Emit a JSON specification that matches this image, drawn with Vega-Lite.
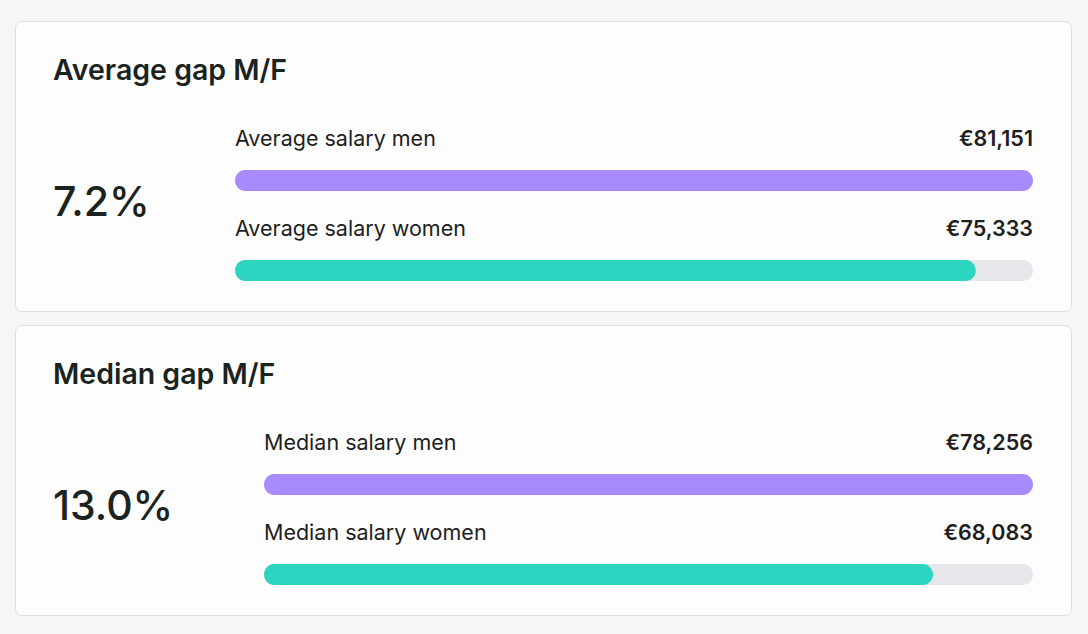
{
  "$schema": "https://vega.github.io/schema/vega-lite/v6.json",
  "background": "#f6f6f6",
  "padding": {"left": 14, "top": 20, "right": 18, "bottom": 18},
  "spacing": 12,
  "config": {
    "font": "Inter",
    "view": {"stroke": "#dcdcdc", "strokeWidth": 1, "fill": "#fdfdfd", "cornerRadius": 7},
    "locale": {"number": {"decimal": ".", "thousands": ",", "grouping": [3], "currency": ["€", ""]}},
    "title": {"anchor": "start", "frame": "group", "offset": -64, "dx": 38, "baseline": "alphabetic", "fontSize": 28.5, "fontWeight": 600, "color": "#1b2320", "font": "Inter"}
  },
  "datasets": {
    "average": [
      {"kind": "bar", "group": "men", "label": "Average salary men", "salary": 81151, "max": 81151, "row": 0},
      {"kind": "bar", "group": "women", "label": "Average salary women", "salary": 75333, "max": 81151, "row": 1},
      {"kind": "gap", "gap": 0.072}
    ],
    "median": [
      {"kind": "bar", "group": "men", "label": "Median salary men", "salary": 78256, "max": 78256, "row": 0},
      {"kind": "bar", "group": "women", "label": "Median salary women", "salary": 68083, "max": 78256, "row": 1},
      {"kind": "gap", "gap": 0.13}
    ]
  },
  "vconcat": [
    {
      "width": 1056,
      "height": 290,
      "title": {"text": "Average gap M/F"},
      "data": {"name": "average"},
      "layer": [
        {
          "transform": [{"filter": "datum.kind === 'bar'"}],
          "mark": {"type": "bar", "orient": "horizontal", "height": 21, "cornerRadius": 10.5, "color": "#e5e7eb"},
          "encoding": {
            "x": {"field": "max", "type": "quantitative", "stack": null, "scale": {"domain": [0, 81151], "range": [220, 1018], "zero": true, "nice": false}, "axis": null},
            "y": {"field": "row", "type": "quantitative", "scale": {"domain": [0, 1], "range": [159.5, 249.5], "nice": false, "padding": 0, "zero": false}, "axis": null}
          }
        },
        {
          "transform": [{"filter": "datum.kind === 'bar'"}],
          "mark": {"type": "bar", "orient": "horizontal", "height": 21, "cornerRadius": 10.5},
          "encoding": {
            "x": {"field": "salary", "type": "quantitative", "stack": null},
            "y": {"field": "row", "type": "quantitative"},
            "color": {"field": "group", "type": "nominal", "scale": {"domain": ["men", "women"], "range": ["#a78bfa", "#2dd4bf"]}, "legend": null}
          }
        },
        {
          "transform": [{"filter": "datum.kind === 'bar'"}],
          "mark": {"type": "text", "align": "left", "baseline": "alphabetic", "dy": -34.5, "fontSize": 21.5, "color": "#1e1e1e"},
          "encoding": {
            "x": {"datum": 0, "type": "quantitative"},
            "y": {"field": "row", "type": "quantitative"},
            "text": {"field": "label"}
          }
        },
        {
          "transform": [{"filter": "datum.kind === 'bar'"}],
          "mark": {"type": "text", "align": "right", "baseline": "alphabetic", "dy": -34.5, "fontSize": 21.5, "fontWeight": 600, "color": "#1e1e1e"},
          "encoding": {
            "x": {"field": "max", "type": "quantitative"},
            "y": {"field": "row", "type": "quantitative"},
            "text": {"field": "salary", "type": "quantitative", "format": "$,.0f"}
          }
        },
        {
          "transform": [{"filter": "datum.kind === 'gap'"}],
          "mark": {"type": "text", "align": "left", "baseline": "alphabetic", "dx": -182, "dy": -9.5, "fontSize": 41, "fontWeight": 500, "color": "#1b2320"},
          "encoding": {
            "x": {"datum": 0, "type": "quantitative"},
            "y": {"datum": 0.5, "type": "quantitative"},
            "text": {"field": "gap", "type": "quantitative", "format": ".1%"}
          }
        }
      ]
    },
    {
      "width": 1056,
      "height": 290,
      "title": {"text": "Median gap M/F"},
      "data": {"name": "median"},
      "layer": [
        {
          "transform": [{"filter": "datum.kind === 'bar'"}],
          "mark": {"type": "bar", "orient": "horizontal", "height": 21, "cornerRadius": 10.5, "color": "#e5e7eb"},
          "encoding": {
            "x": {"field": "max", "type": "quantitative", "stack": null, "scale": {"domain": [0, 78256], "range": [249, 1018], "zero": true, "nice": false}, "axis": null},
            "y": {"field": "row", "type": "quantitative", "scale": {"domain": [0, 1], "range": [159.5, 249.5], "nice": false, "padding": 0, "zero": false}, "axis": null}
          }
        },
        {
          "transform": [{"filter": "datum.kind === 'bar'"}],
          "mark": {"type": "bar", "orient": "horizontal", "height": 21, "cornerRadius": 10.5},
          "encoding": {
            "x": {"field": "salary", "type": "quantitative", "stack": null},
            "y": {"field": "row", "type": "quantitative"},
            "color": {"field": "group", "type": "nominal", "scale": {"domain": ["men", "women"], "range": ["#a78bfa", "#2dd4bf"]}, "legend": null}
          }
        },
        {
          "transform": [{"filter": "datum.kind === 'bar'"}],
          "mark": {"type": "text", "align": "left", "baseline": "alphabetic", "dy": -34.5, "fontSize": 21.5, "color": "#1e1e1e"},
          "encoding": {
            "x": {"datum": 0, "type": "quantitative"},
            "y": {"field": "row", "type": "quantitative"},
            "text": {"field": "label"}
          }
        },
        {
          "transform": [{"filter": "datum.kind === 'bar'"}],
          "mark": {"type": "text", "align": "right", "baseline": "alphabetic", "dy": -34.5, "fontSize": 21.5, "fontWeight": 600, "color": "#1e1e1e"},
          "encoding": {
            "x": {"field": "max", "type": "quantitative"},
            "y": {"field": "row", "type": "quantitative"},
            "text": {"field": "salary", "type": "quantitative", "format": "$,.0f"}
          }
        },
        {
          "transform": [{"filter": "datum.kind === 'gap'"}],
          "mark": {"type": "text", "align": "left", "baseline": "alphabetic", "dx": -211, "dy": -9.5, "fontSize": 41, "fontWeight": 500, "color": "#1b2320"},
          "encoding": {
            "x": {"datum": 0, "type": "quantitative"},
            "y": {"datum": 0.5, "type": "quantitative"},
            "text": {"field": "gap", "type": "quantitative", "format": ".1%"}
          }
        }
      ]
    }
  ]
}
